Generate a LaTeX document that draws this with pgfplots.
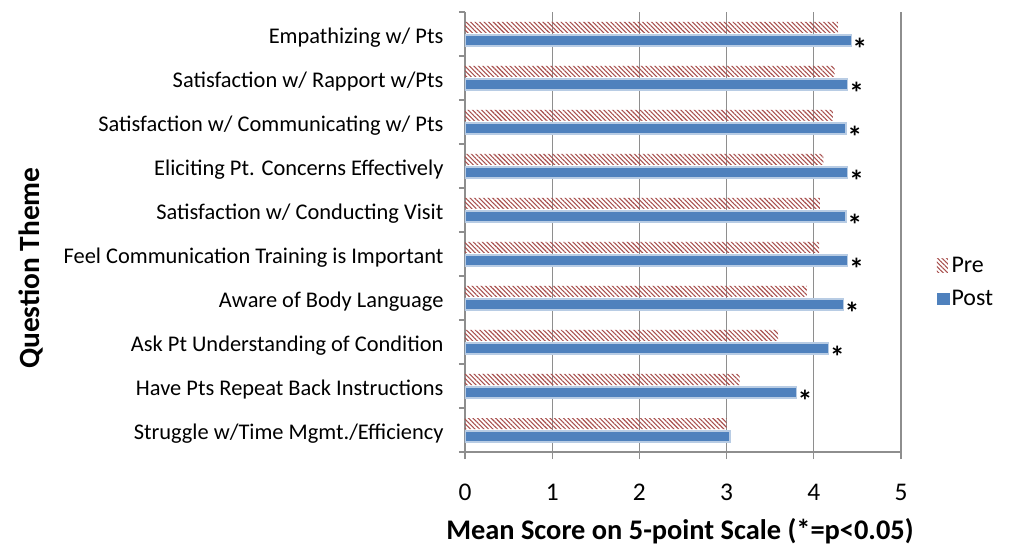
\documentclass[border=0pt]{standalone}
\usepackage{fontspec}
\setmainfont{Carlito}
\usepackage{pgfplots}
\pgfplotsset{compat=1.18}
\usetikzlibrary{patterns.meta}
\definecolor{cPost}{HTML}{4F81BD}
\definecolor{cPostEdge}{HTML}{B8CCE4}
\definecolor{cPre}{HTML}{A8504E}
\definecolor{cGrid}{HTML}{8E8E8E}
\tikzset{prehatch/.style={pattern={Lines[angle=-45, distance=3.2bp, line width=1.1bp]}, pattern color=cPre}}
\begin{document}
\begin{tikzpicture}
\begin{axis}[
  at={(0,0)}, anchor=south west,
  scale only axis, width=436bp, height=440bp,
  xbar, bar width=11bp,
  xmin=0, xmax=5, ymin=-0.5, ymax=9.5,
  xtick={0,...,5},
  ytick={0,...,9},
  yticklabels={Struggle w/Time Mgmt./Efficiency, Have Pts Repeat Back Instructions, Ask Pt Understanding of Condition, Aware of Body Language, Feel Communication Training is Important, Satisfaction w/ Conducting Visit, Eliciting Pt. Concerns Effectively, Satisfaction w/ Communicating w/ Pts, Satisfaction w/ Rapport w/Pts, Empathizing w/ Pts},
  minor ytick={-0.5,0.5,...,9.5},
  axis x line*=bottom, axis y line*=left,
  axis line style={cGrid, line width=1.2bp, -},
  tick align=outside,
  major tick length=7bp, minor tick length=6bp,
  major x tick style={cGrid, line width=1.2bp},
  major y tick style={draw=none},
  minor y tick style={cGrid, line width=1.2bp},
  xmajorgrids, major x grid style={cGrid, line width=1.2bp},
  /pgf/number format/assume math mode=true,
  xticklabel style={font=\fontsize{25.5}{30}\selectfont, anchor=base, yshift=-41bp},
  yticklabel style={font=\fontsize{22.5}{26}\selectfont, anchor=east, xshift=-11bp, yshift=-4bp},
  xlabel={Mean Score on 5-point Scale (*=p<0.05)},
  xlabel style={at={(axis description cs:0.493,0)}, anchor=base, yshift=-87bp, font=\bfseries\fontsize{28.5}{32}\selectfont},
  ylabel={Question Theme},
  ylabel style={at={(axis description cs:-0.995,0.418)}, anchor=center, font=\bfseries\fontsize{29.5}{34}\selectfont},
  legend style={at={(axis description cs:1.082,0.387)}, anchor=west, draw=none, fill=none, font=\fontsize{24}{28}\selectfont, row sep=12bp, inner sep=0pt},
  legend cell align=left,
]
\addplot[prehatch, draw=none, bar shift=6.5bp,
  area legend, legend image code/.code={\fill[prehatch] (0bp,-7bp) rectangle (11bp,7bp);}]
  coordinates {(3.00,0) (3.15,1) (3.59,2) (3.92,3) (4.06,4) (4.07,5) (4.11,6) (4.22,7) (4.24,8) (4.28,9)};
\addlegendentry{Pre}
\addplot[fill=cPost, draw=cPostEdge, line width=1.2bp, bar shift=-6.5bp,
  area legend, legend image code/.code={\fill[cPost] (1bp,-6bp) rectangle (12bp,5bp);}]
  coordinates {(3.04,0) (3.80,1) (4.17,2) (4.34,3) (4.39,4) (4.37,5) (4.39,6) (4.37,7) (4.39,8) (4.43,9)};
\addlegendentry{Post}
\addplot[forget plot, draw=none, fill=none, bar shift=-6.5bp,
  nodes near coords={\textbf{*}},
  every node near coord/.append style={anchor=west, inner sep=1bp, yshift=-8bp, font=\fontsize{30}{34}\selectfont, text=black}]
  coordinates {(3.80,1) (4.17,2) (4.34,3) (4.39,4) (4.37,5) (4.39,6) (4.37,7) (4.39,8) (4.43,9)};
\end{axis}
\pgfresetboundingbox
\path[use as bounding box] (-465bp,-95bp) rectangle (550bp,452bp);
\end{tikzpicture}
\end{document}
